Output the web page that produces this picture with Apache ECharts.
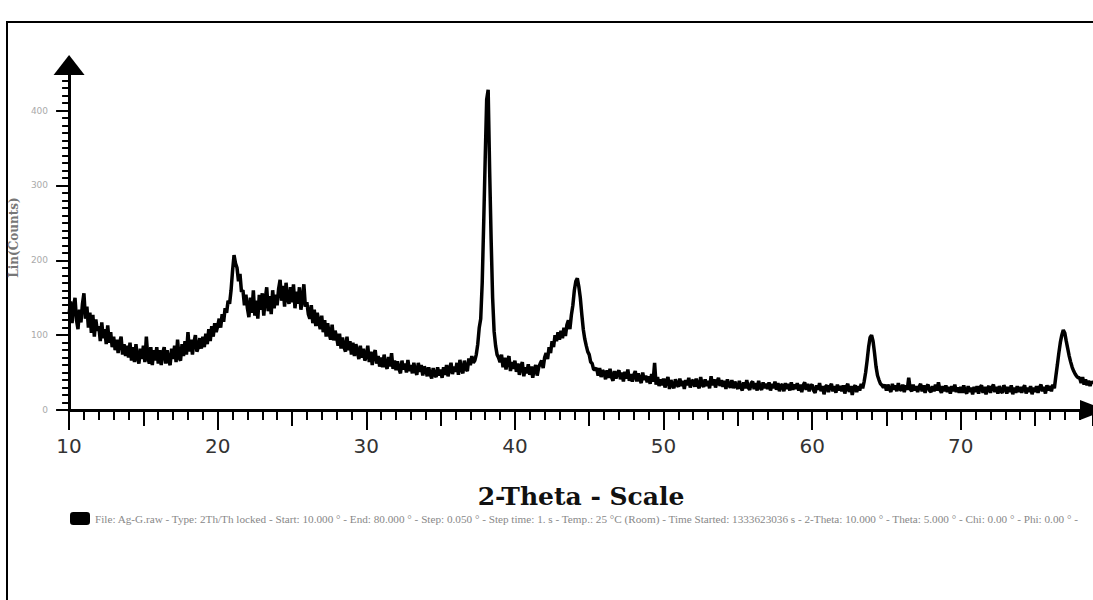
<!DOCTYPE html>
<html>
<head>
<meta charset="utf-8">
<script src="https://cdn.jsdelivr.net/npm/echarts@6/dist/echarts.min.js"></script>
<style>
  html, body { margin: 0; padding: 0; background: #fff; }
  #chart { width: 1093px; height: 600px; }
</style>
</head>
<body>
<div id="chart"></div>
<script>
// scan settings (2-theta grid of the measurement)
const startAngle = 10;
const stepSize = 0.1;

// counts, one row per degree (x.0 ... x.9)
const counts = [
  128, 145, 116, 138, 150, 120, 108, 134, 117, 142, // 10
  156, 122, 138, 110, 130, 103, 127, 98, 121, 106,  // 11
  112, 92, 117, 96, 108, 88, 113, 90, 104, 84,      // 12
  98, 80, 94, 76, 90, 98, 74, 88, 72, 86,           // 13
  70, 90, 66, 84, 64, 88, 70, 62, 82, 68,           // 14
  86, 64, 98, 70, 62, 84, 60, 80, 66, 84,           // 15
  62, 80, 60, 76, 84, 62, 80, 66, 60, 82,           // 16
  68, 86, 64, 94, 70, 66, 88, 72, 92, 74,           // 17
  104, 78, 94, 74, 90, 100, 78, 84, 96, 82,         // 18
  98, 84, 102, 88, 108, 92, 112, 98, 116, 104,      // 19
  112, 122, 110, 128, 118, 136, 130, 146, 142, 160, // 20
  186, 207, 196, 190, 172, 182, 158, 160, 140, 154, // 21
  136, 124, 150, 130, 160, 126, 146, 122, 154, 134, // 22
  156, 126, 148, 164, 132, 152, 128, 160, 136, 154, // 23
  140, 162, 174, 146, 166, 138, 170, 148, 142, 164, // 24
  144, 168, 136, 158, 142, 164, 134, 148, 168, 138, // 25
  144, 128, 122, 140, 116, 134, 112, 130, 118, 108, // 26
  126, 104, 120, 98, 116, 102, 94, 114, 93, 106,    // 27
  98, 86, 102, 82, 97, 84, 78, 98, 80, 92,          // 28
  74, 90, 72, 88, 78, 68, 86, 70, 82, 66,           // 29
  72, 86, 64, 78, 60, 74, 80, 62, 72, 58,           // 30
  70, 57, 74, 60, 55, 71, 58, 76, 55, 66,           // 31
  53, 65, 55, 49, 66, 54, 62, 50, 67, 52,           // 32
  60, 49, 63, 52, 47, 63, 51, 60, 46, 58,           // 33
  54, 45, 57, 48, 42, 56, 47, 44, 57, 46,           // 34
  54, 43, 57, 47, 60, 45, 55, 63, 48, 58,           // 35
  51, 63, 47, 67, 54, 49, 66, 55, 52, 69,           // 36
  60, 72, 63, 66, 74, 88, 110, 122, 170, 250,       // 37
  335, 415, 428, 320, 228, 150, 105, 86, 74, 70,    // 38
  64, 74, 57, 70, 54, 66, 72, 52, 64, 55,           // 39
  66, 51, 62, 47, 58, 64, 45, 57, 49, 61,           // 40
  47, 58, 43, 55, 60, 46, 57, 62, 66, 56,           // 41
  70, 76, 68, 84, 76, 92, 84, 100, 92, 104,         // 42
  94, 106, 96, 110, 99, 114, 120, 108, 127, 140,    // 43
  160, 172, 176, 165, 150, 128, 108, 95, 86, 78,    // 44
  74, 64, 62, 54, 54, 56, 46, 56, 44, 53,           // 45
  50, 41, 53, 43, 55, 44, 39, 52, 42, 49,           // 46
  53, 41, 50, 38, 51, 42, 54, 39, 48, 38,           // 47
  47, 52, 38, 49, 41, 36, 50, 40, 46, 37,           // 48
  45, 35, 48, 38, 63, 34, 44, 32, 41, 33,           // 49
  42, 30, 39, 44, 28, 40, 33, 29, 41, 34,           // 50
  31, 42, 32, 39, 28, 40, 33, 43, 30, 38,           // 51
  40, 31, 42, 33, 29, 44, 34, 31, 41, 32,           // 52
  39, 29, 45, 33, 41, 30, 38, 43, 32, 40,           // 53
  31, 39, 28, 41, 33, 30, 40, 29, 38, 32,           // 54
  28, 39, 31, 26, 37, 29, 40, 30, 27, 36,           // 55
  38, 28, 36, 26, 39, 30, 27, 37, 29, 35,           // 56
  28, 37, 26, 35, 29, 38, 27, 36, 25, 34,           // 57
  33, 25, 36, 28, 35, 26, 37, 27, 34, 28,           // 58
  36, 26, 34, 24, 33, 37, 27, 35, 25, 32,           // 59
  34, 26, 23, 33, 27, 36, 25, 32, 21, 31,           // 60
  33, 24, 31, 35, 25, 32, 23, 34, 26, 32,           // 61
  25, 33, 22, 31, 35, 24, 32, 20, 30, 33,           // 62
  24, 32, 26, 35, 29, 38, 50, 66, 84, 97,           // 63
  100, 92, 76, 58, 46, 40, 35, 33, 30, 34,          // 64
  26, 34, 28, 24, 35, 27, 33, 25, 36, 28,           // 65
  26, 34, 24, 33, 27, 43, 28, 25, 34, 26,           // 66
  32, 24, 31, 35, 25, 33, 23, 31, 34, 26,           // 67
  24, 32, 25, 34, 26, 37, 27, 23, 32, 25,           // 68
  33, 24, 31, 22, 32, 25, 34, 24, 30, 23,           // 69
  31, 23, 33, 25, 22, 32, 24, 30, 21, 31,           // 70
  24, 32, 22, 30, 33, 23, 31, 21, 29, 32,           // 71
  23, 30, 34, 24, 31, 22, 32, 25, 23, 33,           // 72
  29, 22, 31, 24, 33, 21, 30, 23, 32, 24,           // 73
  31, 23, 29, 33, 22, 30, 24, 32, 21, 30,           // 74
  24, 32, 23, 30, 34, 25, 31, 22, 33, 26,           // 75
  32, 25, 34, 29, 45, 60, 76, 90, 100, 107,         // 76
  103, 92, 82, 72, 64, 57, 52, 48, 45, 43,          // 77
  43, 36, 44, 34, 41, 33, 39, 32, 38, 35            // 78
];

// tick labels
const xTickLabels = [10, 20, 30, 40, 50, 60, 70];
const yTickLabels = [0, 100, 200, 300, 400];

const legendText = "File: Ag-G.raw - Type: 2Th/Th locked - Start: 10.000 ° - End: 80.000 ° - Step: 0.050 ° - Step time: 1. s - Temp.: 25 °C (Room) - Time Started: 1333623036 s - 2-Theta: 10.000 ° - Theta: 5.000 ° - Chi: 0.00 ° - Phi: 0.00 ° -";

const points = counts.map((c, i) => [+(startAngle + i * stepSize).toFixed(1), c]);

const xMin = 10;
const xMax = 78.9;
const yMin = 0;
const yMax = 461;

const tickLine = { color: "#000", width: 2 };

const xBase = {
  type: "value",
  min: xMin,
  max: xMax,
  position: "bottom",
  axisLine: { show: false, onZero: false },
  axisLabel: { show: false },
  splitLine: { show: false },
};

const yBase = {
  type: "value",
  min: yMin,
  max: yMax,
  position: "left",
  axisLine: { show: false, onZero: false },
  axisLabel: { show: false },
  splitLine: { show: false },
};

const chart = echarts.init(document.getElementById("chart"), null, { renderer: "svg" });

const option = {
  animation: false,
  backgroundColor: "#fff",
  grid: { left: 67, right: -2, top: 65, bottom: 190 },
  legend: {
    left: 70,
    top: 512,
    padding: 0,
    icon: "roundRect",
    itemWidth: 20,
    itemHeight: 13,
    textStyle: { fontFamily: "Liberation Serif", fontSize: 11.2, color: "#888" },
    data: [legendText],
  },
  xAxis: [
    {
      ...xBase,
      interval: 10,
      axisLine: {
        show: true,
        onZero: false,
        lineStyle: { color: "#000", width: 3 },
        symbol: ["none", "triangle"],
        symbolSize: [20, 26],
      },
      axisTick: { length: 20, lineStyle: tickLine },
      axisLabel: {
        show: true,
        margin: 26,
        fontFamily: "DejaVu Sans",
        fontSize: 20,
        color: "#333",
        showMaxLabel: false,
        formatter: (v) => (xTickLabels.includes(v) ? String(v) : ""),
      },
      name: "2-Theta - Scale",
      nameLocation: "middle",
      nameGap: 74,
      nameTextStyle: {
        fontFamily: "DejaVu Serif",
        fontWeight: "bold",
        fontSize: 25,
        color: "#111",
      },
    },
    { ...xBase, interval: 5, axisTick: { length: 16, lineStyle: tickLine } },
    { ...xBase, interval: 1, axisTick: { length: 10, lineStyle: tickLine } },
  ],
  yAxis: [
    {
      ...yBase,
      interval: 100,
      axisLine: {
        show: true,
        onZero: false,
        lineStyle: { color: "#000", width: 3 },
        symbol: ["none", "triangle"],
        symbolSize: [31, 20],
      },
      axisTick: { length: 13, lineStyle: tickLine },
      axisLabel: {
        show: true,
        margin: 21,
        fontFamily: "DejaVu Sans",
        fontSize: 9,
        color: "#aaa",
        showMaxLabel: false,
        formatter: (v) => (yTickLabels.includes(v) ? String(v) : ""),
      },
      name: "Lin(Counts)",
      nameLocation: "middle",
      nameGap: 47,
      nameTextStyle: { fontFamily: "DejaVu Serif", fontWeight: "bold", fontSize: 12, color: "#777" },
    },
    { ...yBase, interval: 10, axisTick: { length: 7, lineStyle: tickLine } },
  ],
  series: [
    {
      name: legendText,
      type: "line",
      xAxisIndex: 0,
      yAxisIndex: 0,
      data: points,
      symbol: "none",
      lineStyle: { color: "#000", width: 3.5 },
      itemStyle: { color: "#000" },
    },
  ],
  graphic: [
    {
      type: "rect",
      silent: true,
      shape: { x: 7, y: 22, width: 1200, height: 700 },
      style: { fill: "none", stroke: "#000", lineWidth: 2 },
    },
  ],
};

chart.setOption(option);
</script>
</body>
</html>
